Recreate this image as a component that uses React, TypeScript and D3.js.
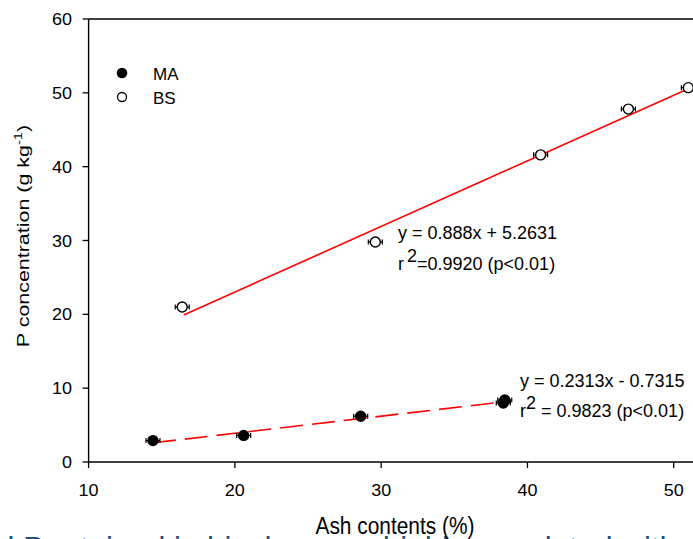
import React from 'react';
import * as d3 from 'd3';

const maAsh = [14.4, 20.6, 28.6, 38.35, 38.45];
const maP = [2.9, 3.6, 6.2, 8.0, 8.4];
const bsAsh = [16.4, 29.6, 40.9, 46.9, 51.0];
const bsP = [21.0, 29.8, 41.6, 47.8, 50.7];

const xTicks = [10, 20, 30, 40, 50];
const yTicks = [0, 10, 20, 30, 40, 50, 60];

const bsFit = { slope: 0.888, intercept: 5.2631, from: 16.5, to: 52 };
const maFit = { slope: 0.2313, intercept: -0.7315, from: 14.4, to: 38.5 };

const width = 693;
const height = 539;
const font = 'Arial, "Liberation Sans", Helvetica, sans-serif';

const x = d3.scaleLinear().domain([10, 60]).range([88.6, 820]);
const y = d3.scaleLinear().domain([0, 60]).range([462, 19]);

const fitLine = (f: { slope: number; intercept: number; from: number; to: number }) =>
  d3
    .line<number>()
    .x(d => x(d))
    .y(d => y(f.slope * d + f.intercept))([f.from, f.to]) || '';

const Point = ({ ax, p, filled }: { ax: number; p: number; filled: boolean }) => {
  const cx = x(ax);
  const cy = y(p);
  return (
    <g>
      <line x1={cx - 7} x2={cx + 7} y1={cy} y2={cy} stroke="#000" strokeWidth={1.2} />
      <line x1={cx - 7} x2={cx - 7} y1={cy - 2.5} y2={cy + 2.5} stroke="#000" strokeWidth={1.2} />
      <line x1={cx + 7} x2={cx + 7} y1={cy - 2.5} y2={cy + 2.5} stroke="#000" strokeWidth={1.2} />
      <circle cx={cx} cy={cy} r={5} fill={filled ? '#000' : '#fff'} stroke="#000" strokeWidth={1.4} />
    </g>
  );
};

export default function App() {
  return (
    <svg
      width={width}
      height={height}
      style={{ position: 'absolute', left: 0, top: 0, background: '#fff' }}
      fontFamily={font}
    >
      {/* frame */}
      <line x1={x(10)} x2={x(60)} y1={y(60)} y2={y(60)} stroke="#000" strokeWidth={1.4} />
      <line x1={x(10)} x2={x(10)} y1={y(0)} y2={y(60)} stroke="#000" strokeWidth={1.4} />
      <line x1={x(10)} x2={x(60)} y1={y(0)} y2={y(0)} stroke="#000" strokeWidth={1.4} />

      {/* y axis */}
      {yTicks.map(t => (
        <g key={'y' + t}>
          <line x1={x(10) - 6} x2={x(10)} y1={y(t)} y2={y(t)} stroke="#000" strokeWidth={1.3} />
          <text
            x={72}
            y={y(t) + 6}
            fontSize={16}
            textAnchor="end"
            textLength={String(t).length * 10}
            lengthAdjust="spacingAndGlyphs"
          >
            {t}
          </text>
        </g>
      ))}
      {/* x axis */}
      {xTicks.map(t => (
        <g key={'x' + t}>
          <line x1={x(t)} x2={x(t)} y1={y(0)} y2={y(0) + 6} stroke="#000" strokeWidth={1.3} />
          <text
            x={x(t)}
            y={496}
            fontSize={16}
            textAnchor="middle"
            textLength={20}
            lengthAdjust="spacingAndGlyphs"
          >
            {t}
          </text>
        </g>
      ))}

      <text transform="translate(29,236) rotate(-90) scale(1.34,1)" fontSize={16} textAnchor="middle">
        P concentration (g kg
        <tspan fontSize={11} dy={-7}>-1</tspan>
        <tspan dy={7}>)</tspan>
      </text>

      {/* slide text peeking in below the figure */}
      <text x={-3} y={559} fontSize={32} fill="#1f4e79" textLength={680} lengthAdjust="spacingAndGlyphs">
        d P retained in biochar was highly correlated with
      </text>

      <text x={395} y={534} fontSize={23} textAnchor="middle" textLength={159} lengthAdjust="spacingAndGlyphs">
        Ash contents (%)
      </text>

      {/* fits */}
      <path d={fitLine(bsFit)} stroke="#ff0000" strokeWidth={1.6} fill="none" />
      <path d={fitLine(maFit)} stroke="#ff0000" strokeWidth={1.6} fill="none" strokeDasharray="23 9" />

      {bsAsh.map((a, i) => (
        <Point key={'bs' + i} ax={a} p={bsP[i]} filled={false} />
      ))}
      {maAsh.map((a, i) => (
        <Point key={'ma' + i} ax={a} p={maP[i]} filled={true} />
      ))}

      {/* legend */}
      <circle cx={122} cy={73} r={5.3} fill="#000" />
      <text x={153} y={80} fontSize={17}>MA</text>
      <circle cx={122} cy={97} r={4.5} fill="#fff" stroke="#000" strokeWidth={1.3} />
      <text x={153} y={104} fontSize={17}>BS</text>

      {/* equations */}
      <text x={398} y={239} fontSize={18}>y = 0.888x + 5.2631</text>
      <text x={398} y={270} fontSize={18}>
        r<tspan dx={3} dy={-8}>2</tspan>
        <tspan dy={8}>=0.9920 (p&lt;0.01)</tspan>
      </text>
      <text x={520} y={387} fontSize={18}>y = 0.2313x - 0.7315</text>
      <text x={520} y={417} fontSize={18}>
        r<tspan dy={-8}>2</tspan>
        <tspan dy={8}> = 0.9823 (p&lt;0.01)</tspan>
      </text>
    </svg>
  );
}
